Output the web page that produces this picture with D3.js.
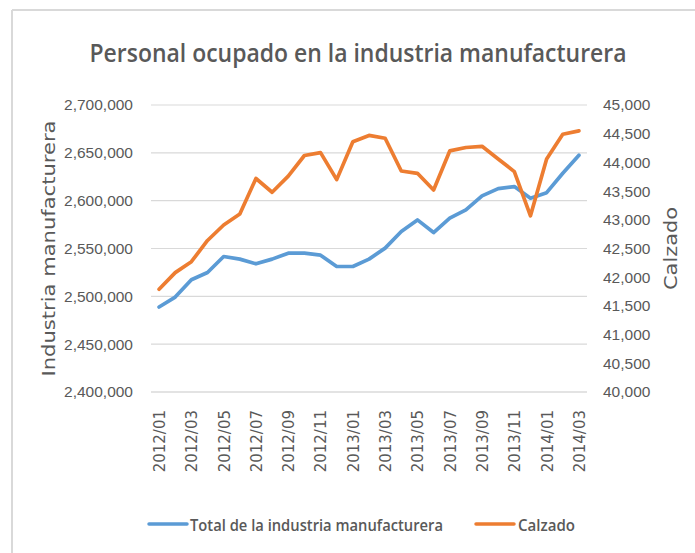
<!DOCTYPE html>
<html>
<head>
<meta charset="utf-8">
<script src="https://cdn.jsdelivr.net/npm/d3@7"></script>
<style>
  html, body { margin: 0; padding: 0; background: #fff; }
  svg { display: block; }
</style>
</head>
<body>
<svg id="chart" width="695" height="553"></svg>
<script>
const months = ["2012/01","2012/02","2012/03","2012/04","2012/05","2012/06","2012/07","2012/08","2012/09","2012/10","2012/11","2012/12",
  "2013/01","2013/02","2013/03","2013/04","2013/05","2013/06","2013/07","2013/08","2013/09","2013/10","2013/11","2013/12",
  "2014/01","2014/02","2014/03"];
const totalManufactura = [2488800, 2499200, 2517300, 2524900, 2541600, 2538900, 2534000, 2538900, 2545100, 2545100, 2543000, 2531200,
  2531200, 2538900, 2550400, 2567700, 2579900, 2566700, 2581700, 2590400, 2605000, 2612600, 2614700, 2602600,
  2608400, 2628700, 2647500];
const calzado = [41790, 42080, 42270, 42640, 42910, 43100, 43720, 43480, 43760, 44120, 44170, 43700,
  44360, 44470, 44420, 43850, 43810, 43520, 44200, 44260, 44280, 44060, 43840, 43070,
  44060, 44490, 44550];
const leftTicks = [2400000, 2450000, 2500000, 2550000, 2600000, 2650000, 2700000];
const rightTicks = [40000, 40500, 41000, 41500, 42000, 42500, 43000, 43500, 44000, 44500, 45000];
const xTickLabels = months.filter((d, i) => i % 2 === 0);
const seriesNames = ["Total de la industria manufacturera", "Calzado"];
const colors = ["#5B9BD5", "#ED7D31"];

const svg = d3.select("#chart");
const plot = { left: 151, right: 587, top: 105, bottom: 392 };
const textColor = "#595959";
const gridColor = "#d9d9d9";

// frame
svg.append("line").attr("x1", 12).attr("x2", 695).attr("y1", 10).attr("y2", 10)
  .attr("stroke", gridColor).attr("stroke-width", 2);
svg.append("line").attr("x1", 12).attr("x2", 12).attr("y1", 10).attr("y2", 553)
  .attr("stroke", gridColor).attr("stroke-width", 2);

const x = d3.scalePoint().domain(months).range([plot.left, plot.right]).padding(0.5);
const yL = d3.scaleLinear().domain([2400000, 2700000]).range([plot.bottom, plot.top]);
const yR = d3.scaleLinear().domain([40000, 45000]).range([plot.bottom, plot.top]);

// gridlines
svg.append("g").selectAll("line").data(leftTicks).join("line")
  .attr("x1", plot.left).attr("x2", plot.right)
  .attr("y1", d => yL(d)).attr("y2", d => yL(d))
  .attr("stroke", gridColor).attr("stroke-width", 1.2);

// left axis
const fmt = d3.format(",");
const leftAxis = svg.append("g").attr("transform", `translate(${plot.left},0)`)
  .call(d3.axisLeft(yL).tickValues(leftTicks).tickFormat(fmt).tickSize(0).tickPadding(18));
leftAxis.select(".domain").remove();
leftAxis.selectAll("text").attr("fill", textColor)
  .style("font-family", "'Liberation Sans', Arial, sans-serif").style("font-size", "15.5px");

// right axis
const rightAxis = svg.append("g").attr("transform", `translate(${plot.right},0)`)
  .call(d3.axisRight(yR).tickValues(rightTicks).tickFormat(fmt).tickSize(0).tickPadding(16));
rightAxis.select(".domain").remove();
rightAxis.selectAll("text").attr("fill", textColor)
  .style("font-family", "'Liberation Sans', Arial, sans-serif").style("font-size", "15.5px");

// bottom axis
const bottomAxis = svg.append("g").attr("transform", `translate(0,${plot.bottom})`)
  .call(d3.axisBottom(x).tickValues(xTickLabels).tickSize(0).tickPadding(0));
bottomAxis.select(".domain").attr("stroke", gridColor).attr("stroke-width", 1.2)
  .attr("d", `M${plot.left},0H${plot.right}`);
bottomAxis.selectAll("text")
  .attr("fill", textColor)
  .style("font-family", "'DejaVu Sans', Verdana, sans-serif").style("font-size", "15px")
  .attr("text-anchor", "end")
  .attr("transform", "rotate(-90)")
  .attr("x", -18).attr("y", 0).attr("dy", "0.36em");

// lines
const lineL = d3.line().x((d, i) => x(months[i])).y(d => yL(d));
const lineR = d3.line().x((d, i) => x(months[i])).y(d => yR(d));
svg.append("path").datum(totalManufactura).attr("d", lineL)
  .attr("fill", "none").attr("stroke", colors[0]).attr("stroke-width", 3.7)
  .attr("stroke-linejoin", "round").attr("stroke-linecap", "round");
svg.append("path").datum(calzado).attr("d", lineR)
  .attr("fill", "none").attr("stroke", colors[1]).attr("stroke-width", 3.7)
  .attr("stroke-linejoin", "round").attr("stroke-linecap", "round");

// title
svg.append("text").attr("x", 358).attr("y", 62).attr("text-anchor", "middle")
  .attr("fill", textColor).style("font-family", "'Open Sans', sans-serif")
  .style("font-size", "25px").style("font-weight", "600")
  .attr("textLength", 537).attr("lengthAdjust", "spacingAndGlyphs")
  .text("Personal ocupado en la industria manufacturera");

// axis titles
svg.append("text").attr("transform", `translate(55,${(plot.top + plot.bottom) / 2}) rotate(-90)`)
  .attr("text-anchor", "middle").attr("fill", textColor)
  .style("font-family", "'DejaVu Sans', Verdana, sans-serif").style("font-size", "17px")
  .attr("textLength", 256).attr("lengthAdjust", "spacingAndGlyphs")
  .text("Industria manufacturera");
svg.append("text").attr("transform", `translate(677,${(plot.top + plot.bottom) / 2}) rotate(-90)`)
  .attr("text-anchor", "middle").attr("fill", textColor)
  .style("font-family", "'DejaVu Sans', Verdana, sans-serif").style("font-size", "17px")
  .attr("textLength", 83).attr("lengthAdjust", "spacingAndGlyphs")
  .text("Calzado");

// legend
const legendItems = [
  { name: seriesNames[0], color: colors[0], x1: 149, x2: 187, tx: 190, tl: 253 },
  { name: seriesNames[1], color: colors[1], x1: 476, x2: 514, tx: 518, tl: 57 }
];
const lg = svg.append("g");
legendItems.forEach(it => {
  lg.append("line").attr("x1", it.x1).attr("x2", it.x2).attr("y1", 524).attr("y2", 524)
    .attr("stroke", it.color).attr("stroke-width", 3.5).attr("stroke-linecap", "round");
  lg.append("text").attr("x", it.tx).attr("y", 530.5).attr("fill", textColor)
    .style("font-family", "'Open Sans', sans-serif").style("font-size", "16px").style("font-weight", "600")
    .attr("textLength", it.tl).attr("lengthAdjust", "spacingAndGlyphs")
    .text(it.name);
});
</script>
</body>
</html>
